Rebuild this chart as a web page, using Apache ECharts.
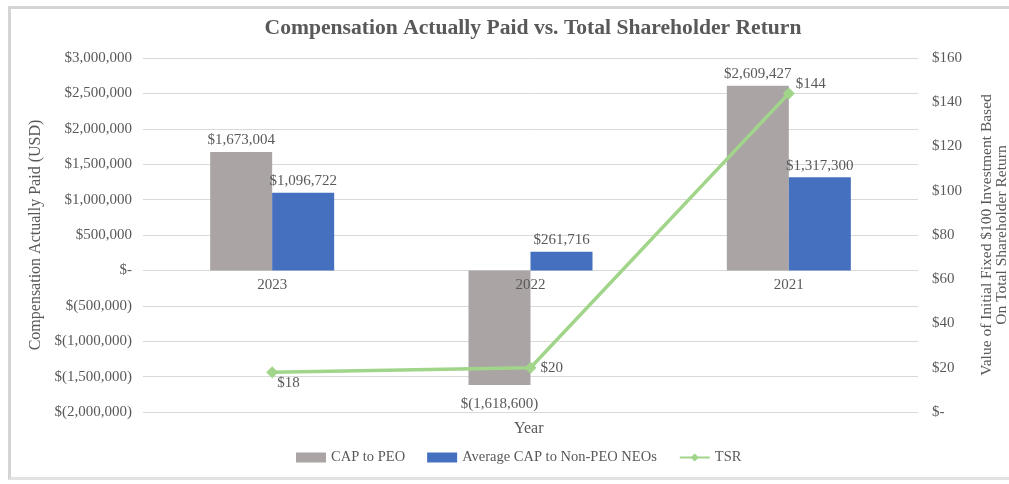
<!DOCTYPE html>
<html>
<head>
<meta charset="utf-8">
<script src="https://cdn.jsdelivr.net/npm/echarts@6/dist/echarts.min.js"></script>
<style>
  html, body { margin: 0; padding: 0; background: #fff; }
  #frame { position: absolute; left: 8px; top: 6px; width: 1001px; height: 474px; border-left: 3px solid #d4d4d4; border-top: 3px solid #d4d4d4; border-bottom: 3px solid #e2e2e2; box-sizing: border-box; }
  #chart { position: absolute; left: 0; top: 0; width: 1009px; height: 484px; }
</style>
</head>
<body>
<div id="frame"></div>
<div id="chart"></div>
<script>
// chart data
const years = ['2023', '2022', '2021']
const capPeo = [1673004, -1618600, 2609427]
const capNonPeo = [1096722, 261716, 1317300]
const tsr = [18, 20, 144]
const leftTicks = { min: -2000000, max: 3000000, step: 500000 }
const rightTicks = { min: 0, max: 160, step: 20 }

const font = '"Liberation Serif", "DejaVu Serif", serif'
const textColor = '#595959'

const money = (v) => {
  if (v === 0) return '$-'
  const s = Math.abs(v).toLocaleString('en-US')
  return v < 0 ? '$(' + s + ')' : '$' + s
}

const barData = (arr) => arr.map((v) => ({
  value: v,
  label: { position: v < 0 ? 'bottom' : 'top', distance: v < 0 ? 12 : 4 },
}))

const tsrLabelPos = [[-3, 11], [2, 0], [-1, -9]]

// plot box, the category labels sit on the zero line of the left axis
const gridTop = 58
const gridBottom = 72
const plotH = 484 - gridTop - gridBottom
const zeroShift = plotH * (0 - leftTicks.min) / (leftTicks.max - leftTicks.min)

const chart = echarts.init(document.getElementById('chart'))

chart.setOption({
  backgroundColor: 'transparent',
  animation: false,
  textStyle: { fontFamily: font, color: textColor },
  title: {
    text: 'Compensation Actually Paid vs. Total Shareholder Return',
    left: 528,
    textAlign: 'center',
    top: 12,
    textStyle: { fontFamily: font, fontSize: 21.6, fontWeight: 'bold', color: textColor },
  },
  graphic: [
    {
      type: 'text',
      left: 514,
      top: 421,
      style: { text: 'Year', font: '16px ' + font, fill: textColor },
    },
  ],
  legend: {
    bottom: 14,
    left: 291,
    itemWidth: 30,
    itemHeight: 10,
    itemGap: 22,
    textStyle: { fontFamily: font, fontSize: 14.5, color: textColor },
    data: [
      { name: 'CAP to PEO', icon: 'rect' },
      { name: 'Average CAP to Non-PEO NEOs', icon: 'rect' },
      { name: 'TSR' },
    ],
  },
  grid: { left: 143, right: 91, top: gridTop, bottom: gridBottom, outerBoundsMode: 'none', containLabel: false },
  xAxis: {
    type: 'category',
    data: years,
    offset: -zeroShift,
    z: 10,
    axisLine: { show: false, onZero: false },
    axisTick: { show: false },
    axisLabel: { color: textColor, fontFamily: font, fontSize: 15, margin: 7 },
  },
  yAxis: [
    {
      type: 'value',
      min: leftTicks.min,
      max: leftTicks.max,
      interval: leftTicks.step,
      name: 'Compensation Actually Paid (USD)',
      nameLocation: 'middle',
      nameGap: 90,
      nameTextStyle: { fontFamily: font, fontSize: 16, color: textColor },
      axisLine: { show: false },
      axisTick: { show: false },
      axisLabel: { color: textColor, fontFamily: font, fontSize: 15, margin: 11, formatter: money },
      splitLine: { lineStyle: { color: '#d9d9d9', width: 1 } },
    },
    {
      type: 'value',
      min: rightTicks.min,
      max: rightTicks.max,
      interval: rightTicks.step,
      position: 'right',
      name: 'Value of Initial Fixed $100 Investment Based\nOn Total Shareholder Return',
      nameLocation: 'middle',
      nameGap: 61,
      nameRotate: 90,
      nameTextStyle: { fontFamily: font, fontSize: 15.5, color: textColor, lineHeight: 15 },
      axisLine: { show: false },
      axisTick: { show: false },
      axisLabel: { color: textColor, fontFamily: font, fontSize: 15, margin: 14, formatter: money },
      splitLine: { show: false },
    },
  ],
  series: [
    {
      name: 'CAP to PEO',
      type: 'bar',
      data: barData(capPeo),
      barWidth: 62,
      barGap: '0%',
      itemStyle: { color: '#aaa5a4' },
      label: { show: true, color: textColor, fontFamily: font, fontSize: 15, formatter: (p) => money(p.value) },
    },
    {
      name: 'Average CAP to Non-PEO NEOs',
      type: 'bar',
      data: barData(capNonPeo),
      barWidth: 62,
      itemStyle: { color: '#4470bf' },
      label: { show: true, color: textColor, fontFamily: font, fontSize: 15, formatter: (p) => money(p.value) },
    },
    {
      name: 'TSR',
      type: 'line',
      yAxisIndex: 1,
      data: tsr.map((v, i) => ({
        value: v,
        label: { position: 'right', offset: tsrLabelPos[i] },
      })),
      symbol: 'diamond',
      symbolSize: 12,
      lineStyle: { color: '#a0d58a', width: 3.5 },
      itemStyle: { color: '#a0d58a' },
      label: { show: true, color: textColor, fontFamily: font, fontSize: 15, distance: 2, formatter: (p) => money(p.value) },
      z: 5,
    },
  ],
})
</script>
</body>
</html>
